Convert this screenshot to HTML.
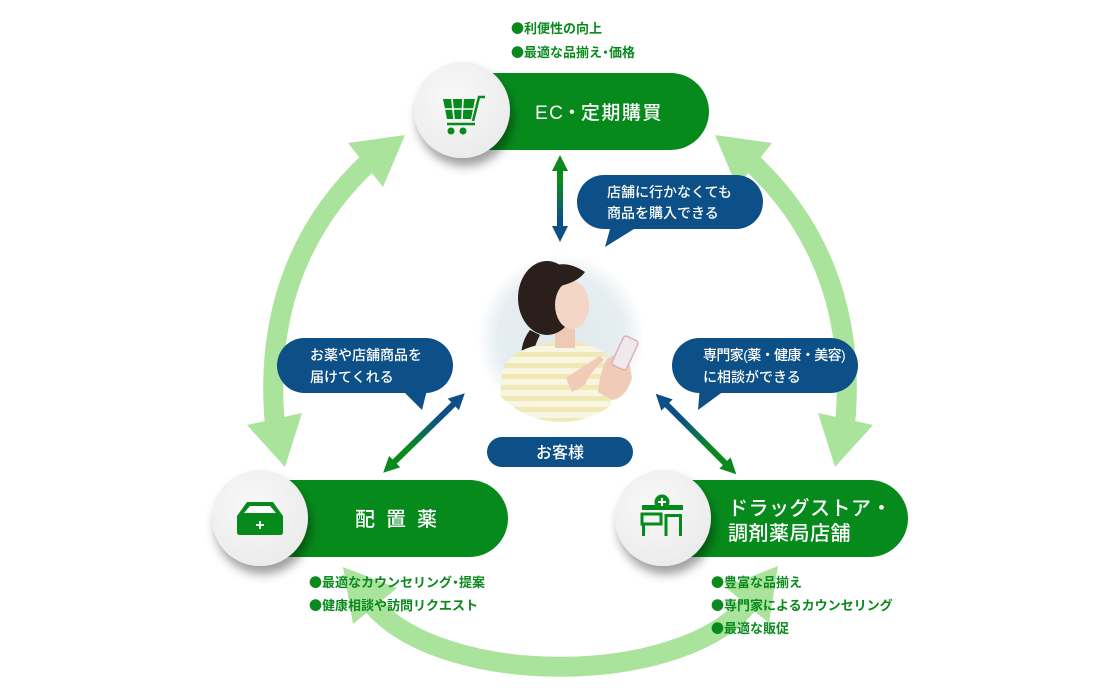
<!DOCTYPE html>
<html><head><meta charset="utf-8">
<style>
html,body{margin:0;padding:0;background:#fff;}
svg{display:block}
text{font-family:"Liberation Sans","Noto Sans CJK JP",sans-serif;}
.b{font-family:"Noto Sans CJK JP","WenQuanYi Zen Hei",sans-serif;}
</style></head><body>
<svg width="1120" height="700" viewBox="0 0 1120 700" xmlns="http://www.w3.org/2000/svg">
<defs>
 <filter id="sh" x="-40%" y="-40%" width="180%" height="180%">
  <feDropShadow dx="3" dy="8" stdDeviation="5" flood-color="#000" flood-opacity="0.38"/>
 </filter>
 <radialGradient id="cg" cx="40%" cy="35%" r="70%">
  <stop offset="0" stop-color="#f8f8f8"/><stop offset="1" stop-color="#ebebeb"/>
 </radialGradient>
 <linearGradient id="gv" x1="0" y1="155" x2="0" y2="242" gradientUnits="userSpaceOnUse">
  <stop offset="0.3" stop-color="#0a8a1e"/><stop offset="0.75" stop-color="#0d4f87"/>
 </linearGradient>
 <linearGradient id="gd" x1="-57" y1="0" x2="57" y2="0" gradientUnits="userSpaceOnUse">
  <stop offset="0.3" stop-color="#0d4f87"/><stop offset="0.7" stop-color="#0a8a1e"/>
 </linearGradient>
 <radialGradient id="pbg" cx="50%" cy="50%" r="50%">
  <stop offset="0" stop-color="#dfe8ec"/><stop offset="0.75" stop-color="#e6eef1"/><stop offset="1" stop-color="#ffffff"/>
 </radialGradient>
 <pattern id="stripe" x="0" y="0" width="10" height="11" patternUnits="userSpaceOnUse">
  <rect width="10" height="11" fill="#f8f5e0"/><rect y="0" width="10" height="5" fill="#f0e9b6"/>
 </pattern>
 <clipPath id="pc"><circle cx="561" cy="338" r="84"/></clipPath>
</defs>

<!-- big light green arcs -->
<g fill="none" stroke="#a9e39c" stroke-width="20">
 <path d="M275 425 C266 330 290 235 370 161"/>
 <path d="M845 425 C854 330 830 235 750 161"/>
 <path d="M371 603 C440 688 680 688 749 603"/>
</g>
<g fill="#a9e39c">
 <polygon points="405,135 348,143 383,187"/>
 <polygon points="285,467 247,425 302,413"/>
 <polygon points="715,135 772,143 737,187"/>
 <polygon points="835,467 873,425 818,413"/>
 <polygon points="343,567 353,624 397,588"/>
 <polygon points="778,566 769,623 725,587"/>
</g>

<!-- center photo -->
<circle cx="561" cy="338" r="84" fill="url(#pbg)"/>
<g clip-path="url(#pc)">
 <path d="M530 330 Q518 345 522 370 L530 372 Q532 350 540 335 Z" fill="#2a1f1a"/>
 <path d="M498 430 L502 372 Q508 352 538 345 L565 340 Q592 343 606 354 L614 430 Z" fill="url(#stripe)"/>
 <rect x="555" y="318" width="20" height="30" fill="#eecab6"/>
 <ellipse cx="547" cy="298" rx="29" ry="37" fill="#2a1f1a"/>
 <ellipse cx="572" cy="305" rx="17" ry="24" fill="#f3d6c6"/>
 <path d="M540 275 Q560 255 585 272 Q578 282 560 286 Q550 300 545 305 Z" fill="#2a1f1a"/>
 <path d="M566 378 Q585 365 600 356 L604 360 Q590 372 585 385 L572 392 Z" fill="#f0cbb7"/>
 <path d="M606 360 Q615 352 628 356 L632 378 Q626 398 612 400 L598 392 Q600 372 606 360 Z" fill="#f0cbb7"/>
 <g transform="translate(625 353) rotate(25)">
  <rect x="-8" y="-16" width="16" height="32" rx="3" fill="#efe9ee" stroke="#d8b2bd" stroke-width="1.5"/>
 </g>
</g>

<!-- お客様 pill -->
<rect x="487" y="437" width="146" height="30" rx="15" fill="#0d4f87"/>
<text x="560" y="458" font-size="16" fill="#fff" text-anchor="middle" font-weight="500">お客様</text>

<!-- double arrows -->
<polygon fill="url(#gv)" points="560,155 568,171 563,171 563,226 568,226 560,242 552,226 557,226 557,171 552,171"/>
<g transform="translate(424 433) rotate(135.7)">
 <polygon fill="url(#gd)" points="-57,0 -41,-8 -41,-3 41,-3 41,-8 57,0 41,8 41,3 -41,3 -41,8"/>
</g>
<g transform="translate(696 434) rotate(45)">
 <polygon fill="url(#gd)" points="-57,0 -41,-8 -41,-3 41,-3 41,-8 57,0 41,8 41,3 -41,3 -41,8"/>
</g>

<!-- callouts -->
<g fill="#0d4f87">
 <rect x="577" y="175" width="186" height="54" rx="27"/>
 <polygon points="612,222 642,224 605,247"/>
 <rect x="277" y="338" width="176" height="55" rx="27.5"/>
 <polygon points="398,386 428,386 422,410"/>
 <rect x="672" y="338" width="186" height="55" rx="27.5"/>
 <polygon points="700,386 728,388 698,410"/>
</g>
<g fill="#fff" font-size="14" font-weight="500">
 <text x="607" y="197">店舗に行かなくても</text>
 <text x="607" y="218">商品を購入できる</text>
 <text x="310" y="360">お薬や店舗商品を</text>
 <text x="310" y="382">届けてくれる</text>
 <text x="703" y="360" letter-spacing="-0.6">専門家(薬・健康・美容)</text>
 <text x="703" y="382">に相談ができる</text>
</g>

<!-- pills -->
<g fill="#078a1c">
 <path d="M462 73 H670.5 A38.5 38.5 0 0 1 670.5 150 H462 Z"/>
 <path d="M260 480 H469.5 A38.5 38.5 0 0 1 469.5 557 H260 Z"/>
 <path d="M663 480 H869.5 A38.5 38.5 0 0 1 869.5 557 H663 Z"/>
</g>
<g fill="url(#cg)" filter="url(#sh)">
 <circle cx="462" cy="110" r="48"/>
 <circle cx="260" cy="518" r="48"/>
 <circle cx="663" cy="518" r="48"/>
</g>

<!-- pill texts -->
<text x="535" y="119" font-size="19" fill="#fff" letter-spacing="1.5" font-weight="500">EC<tspan dx="-2">・</tspan><tspan dx="-2">定期購買</tspan></text>
<text x="355" y="526" font-size="20" fill="#fff" letter-spacing="11" font-weight="500">配置薬</text>
<text x="728" y="515" font-size="20" fill="#fff" letter-spacing="0.5" font-weight="500">ドラッグストア・</text>
<text x="728" y="540" font-size="20" fill="#fff" letter-spacing="0.5" font-weight="500">調剤薬局店舗</text>

<!-- icons -->
<g fill="#078a1c" stroke="none">
 <!-- cart -->
 <path d="M443 99 H475 L471 119 H447 Z"/>
 <g stroke="#fff" stroke-width="1.6">
  <line x1="443" y1="109" x2="475" y2="109"/>
  <line x1="452" y1="99" x2="454" y2="119"/>
  <line x1="463" y1="99" x2="462" y2="119"/>
 </g>
 <path d="M473 121 L479 97 H485" fill="none" stroke="#078a1c" stroke-width="2.5"/>
 <path d="M447 124 H475" fill="none" stroke="#078a1c" stroke-width="2.5"/>
 <circle cx="451" cy="131" r="3.5"/>
 <circle cx="463" cy="131" r="3.5"/>
 <!-- box -->
 <path d="M247 502 H273 L283 516 V532 Q283 535 280 535 H240 Q237 535 237 532 V516 Z"/>
 <path d="M250 506 H270 L276 513 H244 Z" fill="#fff"/>
 <path d="M260 521 V529 M256 525 H264" stroke="#fff" stroke-width="1.8"/>
 <!-- store -->
 <rect x="642" y="505" width="41" height="5"/>
 <circle cx="662" cy="502" r="7.5"/>
 <path d="M662 498 V506 M658 502 H666" stroke="#fff" stroke-width="2"/>
 <rect x="642" y="514" width="19" height="10" fill="none" stroke="#078a1c" stroke-width="3"/>
 <path d="M643.5 524 V536" stroke="#078a1c" stroke-width="3"/>
 <path d="M666 536 V515.5 H680.5 V536" fill="none" stroke="#078a1c" stroke-width="3"/>
</g>

<!-- bullet texts -->
<g fill="#0a8a1c" font-size="13" font-weight="bold">
 <text x="511" y="33"><tspan class="b">●</tspan>利便性の向上</text>
 <text x="511" y="57"><tspan class="b">●</tspan>最適な品揃え<tspan dx="-3">・</tspan><tspan dx="-3">価格</tspan></text>
 <text x="309" y="587"><tspan class="b">●</tspan>最適なカウンセリング<tspan dx="-3">・</tspan><tspan dx="-3">提案</tspan></text>
 <text x="309" y="610"><tspan class="b">●</tspan>健康相談や訪問リクエスト</text>
 <text x="711" y="587"><tspan class="b">●</tspan>豊富な品揃え</text>
 <text x="711" y="610"><tspan class="b">●</tspan>専門家によるカウンセリング</text>
 <text x="711" y="633"><tspan class="b">●</tspan>最適な販促</text>
</g>
</svg>
</body></html>
